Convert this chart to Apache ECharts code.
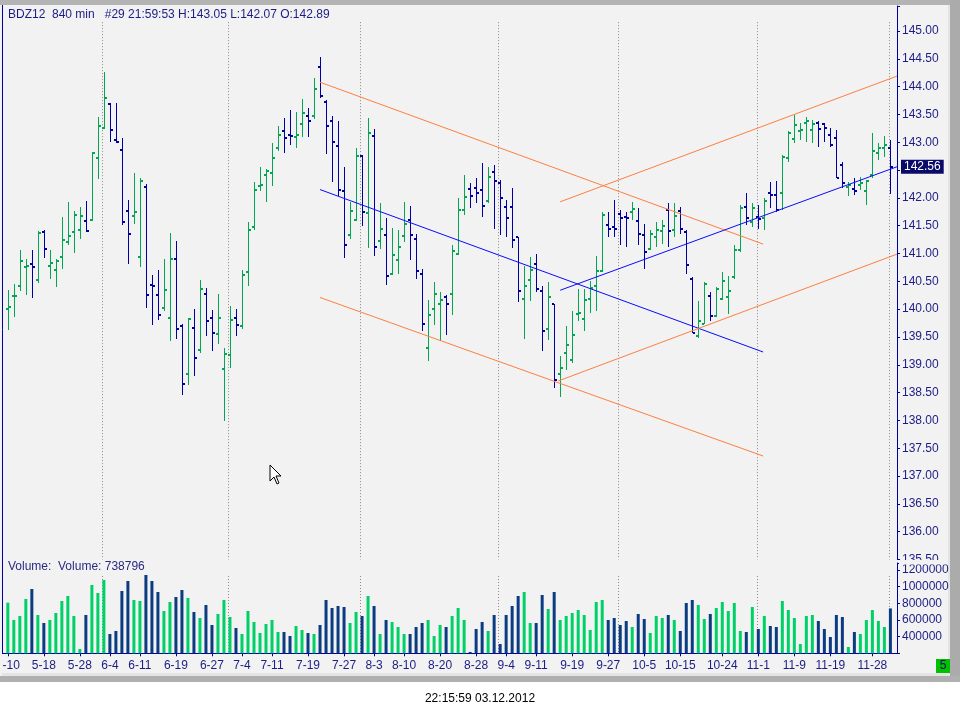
<!DOCTYPE html>
<html>
<head>
<meta charset="utf-8">
<title>BDZ12 840 min</title>
<script src="https://cdn.jsdelivr.net/npm/echarts@6.0.0/dist/echarts.min.js"></script>
<style>
html, body { margin: 0; padding: 0; background: #fff; }
#main { width: 960px; height: 716px; }
</style>
</head>
<body>
<div id="main"></div>
<script>
// price bars, one entry per 840 min bar
var opens = [140.00,140.23,140.41,140.75,140.81,140.53,141.38,140.77,140.71,140.93,
    141.20,141.38,141.43,141.58,141.61,142.71,143.25,143.68,143.05,142.87,
    141.76,141.67,140.93,142.19,140.43,140.25,140.02,139.85,140.91,139.69,
    138.83,139.66,139.26,140.27,139.84,139.55,138.92,139.17,139.84,139.69,
    140.66,141.47,142.21,142.41,142.44,142.89,143.21,143.14,143.09,143.32,
    143.48,143.47,144.36,143.72,143.38,142.93,142.12,141.34,141.60,142.76,
    141.72,143.12,141.22,141.34,140.63,140.89,141.31,141.60,141.27,140.64,
    139.31,140.00,140.10,140.21,140.28,141.00,141.78,142.16,142.17,142.14,
    141.94,142.46,142.27,141.83,141.83,141.29,140.18,140.52,140.81,140.32,
    139.64,140.09,138.83,139.22,139.08,139.91,139.82,140.18,140.42,140.69,
    141.51,141.48,141.71,141.66,141.74,141.58,141.33,141.08,141.29,141.40,
    141.79,141.42,141.77,141.38,140.55,139.51,139.74,140.23,139.88,140.19,
    140.21,140.57,141.06,141.83,141.57,141.65,141.63,142.08,142.06,142.08,
    142.71,143.06,143.21,143.35,143.22,143.35,143.32,143.13,143.07,142.59,
    142.20,142.16,142.24,142.12,142.41,142.80,142.89,142.89];
var highs = [140.35,140.45,141.06,140.90,141.06,141.41,141.42,141.06,140.91,141.66,
    141.92,141.76,141.84,141.94,142.82,143.45,144.26,143.71,143.71,143.08,
    141.96,142.45,142.36,142.25,140.61,140.70,140.90,141.37,141.23,139.73,
    139.84,140.00,140.52,140.38,139.98,140.27,139.30,140.06,140.00,140.70,
    141.57,142.29,142.56,142.52,142.99,143.29,143.44,143.58,143.54,143.78,
    143.61,144.15,144.54,143.76,143.47,143.38,142.56,141.93,142.90,142.78,
    143.43,143.23,141.90,141.63,141.46,141.42,141.93,141.86,141.36,140.72,
    140.16,140.49,140.30,140.25,141.15,142.00,142.41,142.26,142.35,142.63,
    142.55,142.59,142.32,141.96,142.17,141.30,140.77,140.93,140.99,140.42,
    140.49,140.10,139.16,139.69,139.97,140.36,140.37,140.51,140.96,141.75,
    141.75,141.96,141.78,141.75,141.92,141.81,141.54,141.42,141.57,141.60,
    141.90,141.91,141.84,141.42,140.58,140.15,140.49,140.31,140.39,140.67,
    140.60,141.15,141.87,142.08,141.90,141.87,141.99,142.29,142.30,142.77,
    143.20,143.49,143.34,143.46,143.40,143.39,143.34,143.25,143.22,142.65,
    142.29,142.36,142.38,142.32,143.16,142.98,143.12,143.05];
var lows = [139.62,139.86,140.33,140.26,140.20,140.47,140.92,140.55,140.40,140.72,
    141.15,141.01,141.26,141.38,141.58,142.34,143.23,143.01,142.98,141.51,
    140.81,141.53,140.76,140.03,139.72,139.81,139.97,139.42,139.47,138.45,
    138.63,138.79,139.22,139.52,139.25,139.38,137.99,138.95,139.52,139.65,
    140.42,141.42,142.13,141.93,142.21,142.84,142.80,142.96,142.90,143.10,
    143.10,143.41,143.80,142.79,142.29,142.03,140.92,141.26,141.59,141.50,
    141.10,140.96,141.08,140.44,140.61,140.64,141.21,140.89,140.55,139.61,
    139.06,139.72,139.42,139.54,139.90,140.98,141.70,141.82,141.90,141.66,
    141.90,141.45,141.33,141.30,141.10,140.13,139.46,140.15,140.31,139.25,
    139.45,138.59,138.43,138.91,139.04,139.79,139.61,139.94,139.97,140.67,
    141.30,141.30,141.15,141.12,141.60,141.15,140.73,141.06,141.11,141.18,
    141.12,141.29,141.35,140.64,139.57,139.48,139.73,139.79,139.86,140.16,
    139.91,140.55,141.03,141.51,141.48,141.45,141.42,141.81,141.75,141.78,
    142.65,142.98,143.04,143.00,142.98,142.92,143.01,142.92,142.35,142.17,
    142.04,142.05,142.14,141.87,142.35,142.68,142.74,142.07];
var closes = [140.04,140.24,140.87,140.78,140.75,141.37,141.09,140.83,140.86,141.25,
    141.32,141.70,141.67,141.40,142.80,143.29,143.79,143.22,143.00,141.56,
    141.36,141.74,142.30,140.25,140.41,139.89,140.34,140.90,139.64,138.65,
    139.82,139.12,140.37,139.78,139.57,139.84,139.19,139.80,139.71,140.61,
    141.42,142.15,142.24,142.48,142.71,143.13,143.07,143.11,143.14,143.52,
    143.38,143.95,143.83,143.29,143.00,142.15,141.16,141.76,142.76,141.74,
    143.16,141.11,141.45,140.59,140.97,141.11,141.54,141.33,140.68,139.74,
    139.89,140.27,140.16,140.09,141.05,141.79,142.01,142.03,142.08,141.85,
    142.37,142.30,141.99,141.63,141.24,140.32,140.41,140.70,140.37,139.60,
    140.21,138.72,138.94,139.35,139.53,139.94,140.16,140.38,140.69,141.70,
    141.45,141.45,141.63,141.64,141.80,141.36,141.02,141.36,141.43,141.50,
    141.41,141.67,141.45,140.79,139.58,139.78,140.45,139.87,140.37,140.51,
    140.33,141.06,141.81,141.63,141.81,141.62,141.94,142.06,141.79,142.73,
    143.17,143.31,143.22,143.39,143.33,143.24,143.26,142.96,142.36,142.27,
    142.23,142.13,142.26,142.30,142.84,142.89,142.95,142.56];
var volumes = [808000,600000,648000,852000,972000,660000,564000,600000,684000,828000,
    888000,648000,252000,660000,1020000,924000,1080000,432000,468000,948000,
    1068000,840000,828000,1140000,1068000,936000,708000,816000,876000,960000,
    864000,696000,624000,780000,540000,672000,840000,636000,504000,432000,
    708000,576000,444000,552000,600000,456000,456000,408000,528000,480000,
    444000,432000,540000,840000,744000,768000,756000,564000,696000,648000,
    888000,768000,432000,600000,576000,516000,432000,432000,516000,564000,
    600000,408000,540000,516000,648000,744000,600000,216000,492000,576000,
    468000,660000,312000,660000,768000,888000,936000,564000,564000,900000,
    732000,936000,600000,648000,684000,720000,660000,480000,816000,840000,
    600000,624000,540000,588000,516000,672000,612000,444000,648000,624000,
    660000,600000,468000,804000,840000,780000,612000,672000,744000,816000,
    708000,804000,468000,456000,756000,492000,648000,528000,516000,828000,
    720000,624000,312000,648000,660000,588000,492000,396000,660000,636000,
    276000,456000,432000,600000,720000,588000,516000,738796];

// date labels on the time axis and the bar they sit under
var tickIdx = [0,6,12,17,22,28,34,39,44,50,56,61,66,72,78,83,88,94,100,106,112,119,125,131,137,144];
var tickLabels = ['5-10','5-18','5-28','6-4','6-11','6-19','6-27','7-4','7-11','7-19','7-27','8-3','8-10',
    '8-20','8-28','9-4','9-11','9-19','9-27','10-5','10-15','10-24','11-1','11-9','11-19','11-28'];
// month separators (between bars)
var monthBreaks = [15.7,36.7,58.7,81.7,101.7,124.7,146.7];

// trend channels [bar, price]
var downTop = [[52,144.08],[125.8,141.17]];
var downMid = [[52,142.15],[125.8,139.23]];
var downBot = [[52,140.21],[125.8,137.36]];
var upTop = [[92,141.93],[148.1,144.19]];
var upMid = [[92,140.34],[148.1,142.56]];
var upBot = [[91.7,138.71],[148.1,140.99]];

var NAVY = '#0000a0';
var GREEN = '#00a651';
var VOL_NAVY = '#0b3b80';
var VOL_GREEN = '#00d068';
var TXT = '#1c1c86';
var FONT = 'Liberation Sans';

var last = closes.length - 1;
var xMin = -0.97, xMax = 148.1;

function isDown(i) {
    return closes[i] < opens[i];
}

var ohlcData = opens.map(function (o, i) {
    return [i, o, highs[i], lows[i], closes[i]];
});
var volData = volumes.map(function (v, i) {
    return [i, v];
});

function renderBar(params, api) {
    var i = api.value(0);
    var cx = Math.round(api.coord([i, 140])[0]);
    var yO = Math.round(api.coord([i, api.value(1)])[1]);
    var yH = Math.round(api.coord([i, api.value(2)])[1]);
    var yL = Math.round(api.coord([i, api.value(3)])[1]);
    var yC = Math.round(api.coord([i, api.value(4)])[1]);
    var col = api.value(4) < api.value(1) ? NAVY : GREEN;
    return {
        type: 'group',
        children: [
            { type: 'rect', shape: { x: cx, y: yH, width: 1, height: Math.max(1, yL - yH) }, style: { fill: col } },
            { type: 'rect', shape: { x: cx - 2, y: yO - 1, width: 2, height: 2 }, style: { fill: col } },
            { type: 'rect', shape: { x: cx + 1, y: yC - 1, width: 2, height: 2 }, style: { fill: col } }
        ]
    };
}

function monthLine(top, bottom) {
    return function (params, api) {
        var p1 = api.coord([api.value(0), top]);
        var p2 = api.coord([api.value(0), bottom]);
        var x = Math.round(p1[0]) + 0.5;
        return {
            type: 'line',
            shape: { x1: x, y1: p1[1], x2: x, y2: p2[1] },
            style: { stroke: '#8a8a8a', lineWidth: 1, lineDash: [1, 2] }
        };
    };
}

function trend(data, color, extra) {
    var s = {
        type: 'line',
        xAxisIndex: 0,
        yAxisIndex: 0,
        data: data,
        showSymbol: false,
        symbol: 'none',
        silent: true,
        z: 3,
        lineStyle: { width: 1, color: color }
    };
    if (extra) s.markLine = extra;
    return s;
}

var myChart = echarts.init(document.getElementById('main'));

var option = {
    animation: false,
    backgroundColor: '#f2f2f2',
    textStyle: { fontFamily: FONT },
    grid: [
        { left: 2, right: 63, top: 6, height: 553.5 },
        { left: 2, right: 63, top: 563, height: 90.3 }
    ],
    xAxis: [{
        type: 'value',
        gridIndex: 0,
        min: xMin,
        max: xMax,
        show: false
    }, {
        type: 'value',
        gridIndex: 1,
        min: xMin,
        max: xMax,
        axisLine: { onZero: false, lineStyle: { color: NAVY, width: 1 } },
        axisTick: { customValues: tickIdx, length: 3, lineStyle: { color: NAVY } },
        axisLabel: {
            // first label is cut by the left edge, drawn separately below
            customValues: tickIdx.slice(1),
            margin: 6,
            fontSize: 12,
            color: TXT,
            fontFamily: FONT,
            formatter: function (v) {
                var k = tickIdx.indexOf(Math.round(v));
                return k < 0 ? '' : tickLabels[k];
            }
        },
        splitLine: { show: false }
    }],
    yAxis: [{
        type: 'value',
        gridIndex: 0,
        position: 'right',
        min: 135.5,
        max: 145.45,
        interval: 0.5,
        axisLine: { show: true, onZero: false, lineStyle: { color: NAVY } },
        axisTick: { show: true, length: 3, lineStyle: { color: NAVY } },
        axisLabel: {
            margin: 5,
            fontSize: 12,
            color: TXT,
            fontFamily: FONT,
            formatter: function (v) {
                return v > 145.001 ? '' : v.toFixed(2);
            }
        },
        splitLine: { show: false }
    }, {
        type: 'value',
        gridIndex: 1,
        position: 'right',
        min: 200000,
        max: 1284000,
        interval: 200000,
        axisLine: { show: true, onZero: false, lineStyle: { color: NAVY } },
        axisTick: { show: true, length: 3, lineStyle: { color: NAVY } },
        axisLabel: {
            margin: 5,
            fontSize: 12,
            color: TXT,
            fontFamily: FONT,
            formatter: function (v) {
                return (v <= 200000 || v > 1200000) ? '' : String(v);
            }
        },
        splitLine: { show: false }
    }],
    series: [{
        name: 'months',
        type: 'custom',
        xAxisIndex: 0,
        yAxisIndex: 0,
        silent: true,
        z: 1,
        renderItem: monthLine(145.16, 135.5),
        data: monthBreaks.map(function (m) { return [m, 140]; })
    }, {
        name: 'monthsVol',
        type: 'custom',
        xAxisIndex: 1,
        yAxisIndex: 1,
        silent: true,
        z: 1,
        renderItem: monthLine(1128000, 200000),
        data: monthBreaks.map(function (m) { return [m, 600000]; })
    }, {
        name: 'BDZ12',
        type: 'custom',
        xAxisIndex: 0,
        yAxisIndex: 0,
        renderItem: renderBar,
        encode: { x: 0, y: [1, 2, 3, 4] },
        data: ohlcData,
        z: 2
    }, {
        name: 'Volume',
        type: 'bar',
        xAxisIndex: 1,
        yAxisIndex: 1,
        barWidth: 3,
        data: volData,
        itemStyle: {
            color: function (p) {
                return isDown(p.dataIndex) ? VOL_NAVY : VOL_GREEN;
            }
        }
    },
    trend(downTop, '#ff7f3f'),
    trend(downMid, '#0a0aff'),
    trend(downBot, '#ff7f3f'),
    trend(upTop, '#ff7f3f'),
    trend(upMid, '#0a0aff', {
        silent: true,
        symbol: 'none',
        lineStyle: { color: 'rgba(0,0,0,0)', width: 1 },
        label: {
            show: true,
            position: 'end',
            distance: 4,
            color: '#fff',
            backgroundColor: '#0a0a6a',
            padding: [1, 3, 1, 3],
            fontSize: 12,
            fontFamily: FONT,
            formatter: function (p) { return Number(p.value).toFixed(2); }
        },
        data: [{ yAxis: closes[last] }]
    }),
    trend(upBot, '#ff7f3f')
    ],
    graphic: [
        // window frame
        { type: 'rect', silent: true, shape: { x: 0, y: 0, width: 960, height: 5 }, style: { fill: '#b4b4b4' } },
        { type: 'rect', silent: true, shape: { x: 948, y: 5, width: 2, height: 671 }, style: { fill: '#e4e4e4' } },
        { type: 'rect', silent: true, shape: { x: 950, y: 0, width: 10, height: 682 }, style: { fill: '#ababab' } },
        { type: 'rect', silent: true, shape: { x: 0, y: 673, width: 950, height: 3 }, style: { fill: '#e4e4e4' } },
        { type: 'rect', silent: true, shape: { x: 0, y: 676, width: 960, height: 6 }, style: { fill: '#b0b0b0' } },
        { type: 'rect', silent: true, shape: { x: 0, y: 682, width: 960, height: 34 }, style: { fill: '#ffffff' } },
        // hide lower half of the clipped 135.50 label
        { type: 'rect', silent: true, z: 100, shape: { x: 899, y: 560, width: 48, height: 4.5 }, style: { fill: '#f2f2f2' } },
        {
            type: 'text', silent: true, left: 8, top: 9, z: 100,
            style: {
                text: 'BDZ12  840 min   #29 21:59:53 H:' + highs[last].toFixed(2) + ' L:' + lows[last].toFixed(2) + ' O:' + opens[last].toFixed(2),
                fill: TXT, font: '12px "Liberation Sans"'
            }
        },
        {
            type: 'text', silent: true, left: 8, top: 561, z: 100,
            style: { text: 'Volume:  Volume: ' + volumes[last], fill: '#2a2a80', font: '12px "Liberation Sans"' }
        },
        { type: 'rect', silent: true, z: 100, shape: { x: 936, y: 659, width: 14, height: 14 }, style: { fill: '#00c000' } },
        {
            type: 'text', silent: true, z: 101, x: 943, y: 666,
            style: { text: '5', fill: '#101060', font: '12px "Liberation Sans"', align: 'center', verticalAlign: 'middle' }
        },
        {
            type: 'text', silent: true, z: 100, x: 480, y: 699,
            style: { text: '22:15:59 03.12.2012', fill: '#000', font: '12px "Liberation Sans"', align: 'center', verticalAlign: 'middle' }
        },
        // mouse pointer
        {
            type: 'polygon', silent: true, z: 100,
            shape: { points: [[270, 465], [270, 481], [274, 477], [277, 484], [279, 483], [276, 476], [281, 476]] },
            style: { fill: '#fff', stroke: '#000', lineWidth: 1 }
        }
    ]
};

myChart.setOption(option);

// first date label sits half outside the panel, place it from the axis scale
var firstX = myChart.convertToPixel({ xAxisIndex: 1 }, tickIdx[0]);
var axisY = myChart.convertToPixel({ yAxisIndex: 1 }, 200000);
option.graphic.push({
    type: 'text', silent: true, z: 100, x: firstX, y: axisY + 6,
    style: { text: tickLabels[0], fill: TXT, font: '12px "Liberation Sans"', align: 'center', verticalAlign: 'top' }
});
// left frame covers what pokes out past the edge
option.graphic.push({ type: 'rect', silent: true, z: 101, shape: { x: 0, y: 5, width: 2, height: 671 }, style: { fill: '#f2f2f2' } });
option.graphic.push({ type: 'line', silent: true, z: 102, shape: { x1: 2.5, y1: 5, x2: 2.5, y2: 653.5 }, style: { stroke: NAVY, lineWidth: 1 } });
myChart.setOption({ graphic: option.graphic });
</script>
</body>
</html>
